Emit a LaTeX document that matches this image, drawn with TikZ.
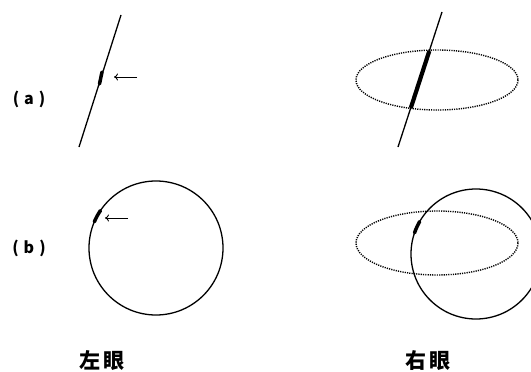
\documentclass[tikz,border=0pt]{standalone}
\usepackage{fontspec}
\newfontfamily\cjk{Noto Sans CJK SC}
\usetikzlibrary{arrows.meta,calc}
\begin{document}
\begin{tikzpicture}[x=1pt,y=-1pt,
  curve/.style={line width=1.3pt},
  dotline/.style={line width=1.4pt,dash pattern=on 1.2pt off 1.1pt},
  blob/.style={line width=3.5pt,line cap=round},
  pointer/.style={line width=0.9pt,-{To[length=4pt,width=7pt]}},
  lab/.style={font=\cjk\bfseries\fontsize{16}{16}\selectfont,inner sep=0pt},
  eye/.style={font=\cjk\bfseries\fontsize{21}{21}\selectfont,inner sep=0pt}]
\useasboundingbox (0,0) rectangle (531,372);
\clip (0,0) rectangle (531,372);
% labels
\node[lab] (la) at (29,99) {(\hspace{5pt}a\hspace{5pt})};
\node[lab] (lb) at (29,248) {(\hspace{5pt}b\hspace{5pt})};
\node[eye] (le) at (102,361) {左\hspace{3pt}眼};
\node[eye] (re) at (428,361) {右\hspace{3pt}眼};
% (a) left
\coordinate (a1) at (121,15);
\coordinate (a2) at (79,147);
\draw[curve] (a1) -- (a2);
\coordinate (ab1) at (102,72);
\coordinate (ab2) at (99.5,84);
\draw[blob] (ab1) -- (ab2);
\coordinate (ar1) at (137,77);
\coordinate (ar2) at (114,77);
\draw[pointer] (ar1) -- (ar2);
% (a) right
\coordinate (e1) at (437,80);
\draw[dotline] (e1) ellipse[x radius=81,y radius=30];
\coordinate (r1) at (442,12);
\coordinate (r2) at (398,147);
\draw[curve] (r1) -- (r2);
\coordinate (rb1) at (429.3,51);
\coordinate (rb2) at (410.8,108);
\draw[blob,line width=4.2pt,line cap=butt] (rb1) -- (rb2);
% (b) left
\coordinate (c1) at (156,248);
\draw[curve] (c1) circle[radius=67];
\draw[blob] ($(c1)+(203:67)$) arc[start angle=203,end angle=214,radius=67];
\coordinate (br1) at (128,218);
\coordinate (br2) at (105,218);
\draw[pointer] (br1) -- (br2);
% (b) right
\coordinate (e2) at (437,243);
\draw[dotline] (e2) ellipse[x radius=81,y radius=32];
\coordinate (c2) at (476,254);
\draw[curve] (c2) circle[radius=65];
\draw[blob] ($(c2)+(199:65)$) arc[start angle=199,end angle=210,radius=65];
\end{tikzpicture}
\end{document}
